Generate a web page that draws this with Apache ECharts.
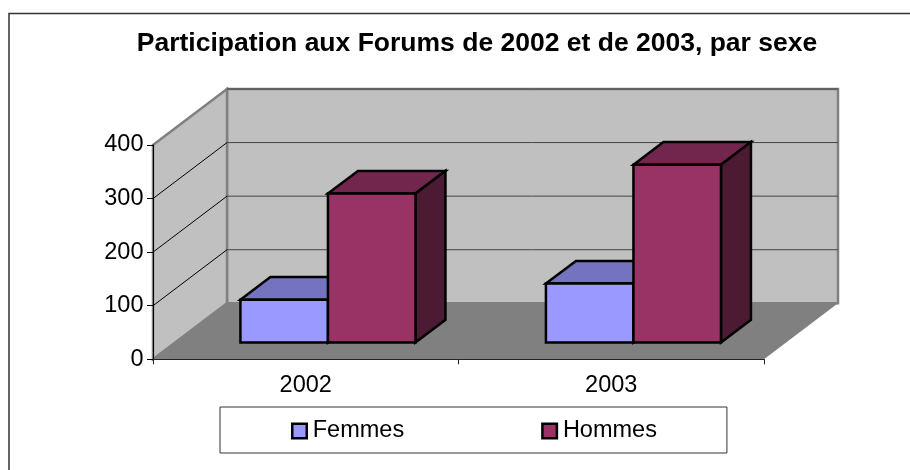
<!DOCTYPE html>
<html>
<head>
<meta charset="utf-8">
<title>Participation aux Forums</title>
<script src="https://cdn.jsdelivr.net/npm/echarts@6/dist/echarts.min.js"></script>
<style>
  html, body { margin: 0; padding: 0; background: #fff; }
  #chart { width: 910px; height: 470px; }
</style>
</head>
<body>
<div id="chart"></div>
<script>
const years = ["2002", "2003"];
const femmes = [80, 110];
const hommes = [278, 332];
const yTicks = [0, 100, 200, 300, 400];

// projection of the chart depth, in px
const DEPTH_X = 74;
const DEPTH_Y = 56;
// where the bars stand in the depth of the floor
const BAR_FRONT = 0.3;
const BAR_DEPTH = 0.405;
const BAR_WIDTH = 0.2865;

const poly = (points, fill, stroke, lineWidth) => ({
  type: "polygon",
  shape: { points },
  style: { fill, stroke: stroke || "none", lineWidth: lineWidth || 0, lineJoin: "miter" },
});

// walls and floor, drawn once per tick so gridlines come from the y axis
const renderWalls = (params, api) => {
  const v = api.value(0);
  const y = api.coord([0, v])[1];
  const x0 = params.coordSys.x;
  const x1 = x0 + params.coordSys.width;
  const line = (x1_, y1_, x2_, y2_, color, w) => ({
    type: "line",
    shape: { x1: x1_, y1: y1_, x2: x2_, y2: y2_ },
    style: { stroke: color, lineWidth: w },
  });
  const children = [];
  if (params.dataIndex === 0) {
    const top = api.coord([0, yTicks[yTicks.length - 1]])[1];
    children.push(
      poly([[x0 + DEPTH_X, top - DEPTH_Y], [x1 + DEPTH_X, top - DEPTH_Y], [x1 + DEPTH_X, y - DEPTH_Y], [x0 + DEPTH_X, y - DEPTH_Y]], "#c0c0c0", "#808080", 2.5),
      poly([[x0, top], [x0 + DEPTH_X, top - DEPTH_Y], [x0 + DEPTH_X, y - DEPTH_Y], [x0, y]], "#c0c0c0", "#808080", 2.5),
      poly([[x0, y], [x0 + DEPTH_X, y - DEPTH_Y], [x1 + DEPTH_X, y - DEPTH_Y], [x1, y]], "#808080")
    );
  } else if (v < yTicks[yTicks.length - 1]) {
    children.push(line(x0, y, x0 + DEPTH_X, y - DEPTH_Y, "#000", 1));
    children.push(line(x0 + DEPTH_X, y - DEPTH_Y, x1 + DEPTH_X, y - DEPTH_Y, "#444", 1));
  } else {
    children.push(line(x0 + DEPTH_X, y - DEPTH_Y, x1 + DEPTH_X, y - DEPTH_Y, "#444", 1));
  }
  return { type: "group", children };
};

// one box: front, top and side faces
const renderBox = (side, front, topColor, sideColor) => (params, api) => {
  const base = api.coord([api.value(0), 0]);
  const topPt = api.coord([api.value(0), api.value(1)]);
  const band = api.size([1, 0])[0];
  const w = band * BAR_WIDTH;
  const ox = DEPTH_X * BAR_FRONT;
  const oy = -DEPTH_Y * BAR_FRONT;
  const dx = DEPTH_X * BAR_DEPTH;
  const dy = -DEPTH_Y * BAR_DEPTH;
  const l = base[0] + ox + (side < 0 ? -w : 0);
  const r = l + w;
  const b = base[1] + oy;
  const t = topPt[1] + oy;
  const s = "#000";
  return {
    type: "group",
    children: [
      poly([[l, t], [l + dx, t + dy], [r + dx, t + dy], [r, t]], topColor, s, 2.5),
      poly([[r, t], [r + dx, t + dy], [r + dx, b + dy], [r, b]], sideColor, s, 2.5),
      poly([[l, t], [r, t], [r, b], [l, b]], front, s, 2.5),
    ],
  };
};

const chart = echarts.init(document.getElementById("chart"));
chart.setOption({
  animation: false,
  backgroundColor: "#fff",
  textStyle: { fontFamily: "Liberation Sans" },
  graphic: [
    {
      type: "polyline",
      silent: true,
      z: -1,
      shape: { points: [[9, 470], [9, 13.5], [910, 13.5]] },
      style: { stroke: "#333", lineWidth: 1.5, fill: "none" },
    },
  ],
  title: {
    text: "Participation aux Forums de 2002 et de 2003, par sexe",
    left: 472,
    top: 25,
    textAlign: "center",
    textStyle: { fontFamily: "Liberation Sans", fontSize: 26.5, fontWeight: "bold", color: "#000" },
  },
  grid: { left: 153, top: 145, width: 611, height: 214.3 },
  xAxis: {
    type: "category",
    data: years,
    axisLine: { show: true, lineStyle: { color: "#222", width: 1 } },
    axisTick: { show: true, length: 5, alignWithLabel: false, lineStyle: { color: "#222" } },
    axisLabel: { color: "#000", fontSize: 23.5, margin: 14 },
    z: 5,
  },
  yAxis: {
    type: "value",
    min: 0,
    max: 400,
    interval: 100,
    axisLine: { show: true, lineStyle: { color: "#000", width: 1 } },
    axisTick: { show: true, length: 6, lineStyle: { color: "#000" } },
    axisLabel: { color: "#000", fontSize: 23.5, margin: 9.5 },
    splitLine: { show: false },
    z: 5,
  },
  legend: {
    left: 220,
    top: 407,
    padding: [12, 70, 10, 71],
    itemGap: 137,
    itemWidth: 14.5,
    itemHeight: 14.5,
    icon: "rect",
    borderColor: "#333",
    borderWidth: 1,
    textStyle: { color: "#000", fontSize: 23.5, padding: [0, 0, 0, 1] },
    data: [
      { name: "Femmes", itemStyle: { color: "#9999ff", borderColor: "#000", borderWidth: 2.5 } },
      { name: "Hommes", itemStyle: { color: "#993366", borderColor: "#000", borderWidth: 2.5 } },
    ],
  },
  series: [
    {
      name: "murs",
      type: "custom",
      coordinateSystem: "cartesian2d",
      silent: true,
      z: 1,
      clip: false,
      renderItem: renderWalls,
      encode: { y: 0 },
      data: yTicks.map((t) => [t]),
    },
    {
      name: "Femmes",
      type: "custom",
      z: 2,
      clip: false,
      itemStyle: { color: "#9999ff" },
      renderItem: renderBox(-1, "#9999ff", "#7373bf", "#4d4d80"),
      encode: { x: 0, y: 1 },
      data: femmes.map((v, i) => [i, v]),
    },
    {
      name: "Hommes",
      type: "custom",
      z: 3,
      clip: false,
      itemStyle: { color: "#993366" },
      renderItem: renderBox(1, "#993366", "#73264d", "#4d1a33"),
      encode: { x: 0, y: 1 },
      data: hommes.map((v, i) => [i, v]),
    },
  ],
});
</script>
</body>
</html>
